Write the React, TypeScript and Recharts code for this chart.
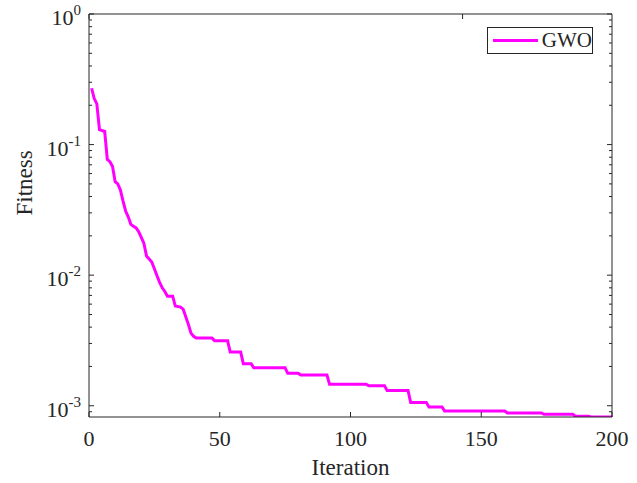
import React from 'react';
import { LineChart, Line, XAxis, YAxis, Legend } from 'recharts';

// convergence curve (breakpoints of the polyline)
const iterations = [
  1, 2, 3, 4, 6, 7, 8, 9, 10, 11, 12, 13, 14, 15, 16, 17, 18, 19, 20, 21, 22, 23, 24, 25, 26, 27, 28, 29, 30, 32,
  33, 35, 36, 37, 38, 39, 40, 41, 47, 48, 53, 54, 58, 59, 62, 63, 75, 76, 80, 81, 91, 92, 106, 107, 113, 114, 122,
  123, 129, 130, 135, 136, 159, 160, 173, 174, 185, 186, 191, 192, 200,
];
const fitness = [
  0.27, 0.225, 0.205, 0.13, 0.126, 0.077, 0.074, 0.068, 0.052, 0.05, 0.045, 0.037, 0.031, 0.028, 0.0245, 0.0237,
  0.023, 0.0215, 0.0195, 0.0175, 0.014, 0.0133, 0.0126, 0.0112, 0.0099, 0.0088, 0.008, 0.0075, 0.0069, 0.0069,
  0.0058, 0.0057, 0.0055, 0.0048, 0.0042, 0.0036, 0.0034, 0.0033, 0.0033, 0.00315, 0.00315, 0.00258, 0.00258,
  0.0021, 0.0021, 0.00195, 0.00195, 0.00177, 0.00177, 0.00172, 0.00172, 0.00146, 0.00146, 0.00142, 0.00142,
  0.00131, 0.00131, 0.00106, 0.00106, 0.00098, 0.00098, 0.00091, 0.00091, 0.00088, 0.00088, 0.00086, 0.00086,
  0.00083, 0.00083, 0.00082, 0.00082,
];

const xTicks = [0, 50, 100, 150, 200];
const decades = [1e-3, 1e-2, 1e-1, 1];
const minorSteps = [2, 3, 4, 5, 6, 7, 8, 9];
const yDomain: [number, number] = [0.00082, 1];

const yTicks: number[] = [];
[1e-4, 1e-3, 1e-2, 1e-1].forEach((d) => {
  yTicks.push(d);
  minorSteps.forEach((m) => yTicks.push(d * m));
});
yTicks.push(1);
const yTicksInRange = yTicks.filter((v) => v >= yDomain[0] - 1e-12 && v <= 1 + 1e-12);

const data = iterations.map((it, i) => ({ it, f: fitness[i] }));

const FONT = '"Liberation Serif", "Times New Roman", serif';
const AXIS = '#262626';
const MAG = '#ff00ff';

const isDecade = (v: number) => decades.some((d) => Math.abs(v - d) / d < 1e-6);

function LeftTick({ x, y, payload }: any) {
  const v = payload.value;
  const major = isDecade(v);
  const exp = Math.round(Math.log10(v));
  return (
    <g>
      <line x1={x} x2={x + (major ? 5 : 3)} y1={y} y2={y} stroke={AXIS} />
      {major && (
        <text x={x - 8} y={y + 11} textAnchor="end" fill={AXIS} style={{ fontFamily: FONT }} fontSize={22}>
          10
          <tspan dy={-10} fontSize={15}>{exp}</tspan>
        </text>
      )}
    </g>
  );
}

function RightTick({ x, y, payload }: any) {
  const major = isDecade(payload.value);
  return <line x1={x} x2={x - (major ? 5 : 3)} y1={y} y2={y} stroke={AXIS} />;
}

function BottomTick({ x, y, payload }: any) {
  return (
    <g>
      <line x1={x} x2={x} y1={y} y2={y - 5} stroke={AXIS} />
      <text x={x} y={y + 29} textAnchor="middle" fill={AXIS} style={{ fontFamily: FONT }} fontSize={22}>
        {payload.value}
      </text>
    </g>
  );
}

function TopTick({ x, y }: any) {
  return <line x1={x} x2={x} y1={y} y2={y + 5} stroke={AXIS} />;
}

function GwoLegend() {
  return (
    <div
      style={{
        width: 104,
        height: 25,
        border: `1px solid ${AXIS}`,
        background: 'white',
        display: 'flex',
        alignItems: 'center',
        fontFamily: FONT,
        fontSize: 21,
        color: AXIS,
      }}
    >
      <div style={{ width: 48, height: 3, background: MAG, marginLeft: 5, marginRight: 4 }} />
      <span>GWO</span>
    </div>
  );
}

export default function App() {
  return (
    <div style={{ width: 637, height: 483, background: 'white' }}>
      <style>{'body{margin:0}'}</style>
      <LineChart width={637} height={483} data={data} margin={{ top: 0, right: 0, bottom: 0, left: 0 }}>
        <XAxis
          dataKey="it"
          type="number"
          domain={[0, 200]}
          ticks={xTicks}
          height={66}
          stroke={AXIS}
          tickLine={false}
          tickSize={0}
          tickMargin={0}
          tick={<BottomTick />}
          interval={0}
          label={{ value: 'Iteration', position: 'insideBottom', offset: 8, fill: AXIS, style: { fontFamily: FONT }, fontSize: 23 }}
        />
        <XAxis
          xAxisId="top"
          orientation="top"
          type="number"
          domain={[0, 200]}
          ticks={xTicks}
          height={14}
          stroke={AXIS}
          tickLine={false}
          tickSize={0}
          tickMargin={0}
          tick={<TopTick />}
          interval={0}
        />
        <YAxis
          scale="log"
          type="number"
          domain={yDomain}
          allowDataOverflow
          ticks={yTicksInRange}
          width={89}
          stroke={AXIS}
          tickLine={false}
          tickSize={0}
          tickMargin={0}
          tick={<LeftTick />}
          interval={0}
          label={{ value: 'Fitness', angle: -90, position: 'insideLeft', offset: 24, fill: AXIS, style: { fontFamily: FONT }, fontSize: 23 }}
        />
        <YAxis
          yAxisId="r"
          orientation="right"
          scale="log"
          type="number"
          domain={yDomain}
          allowDataOverflow
          ticks={yTicksInRange}
          width={25}
          stroke={AXIS}
          tickLine={false}
          tickSize={0}
          tickMargin={0}
          tick={<RightTick />}
          interval={0}
        />
        <Legend
          layout="vertical"
          align="center"
          verticalAlign="middle"
          content={<GwoLegend />}
          wrapperStyle={{ position: 'absolute', left: 487, top: 27, width: 106, height: 27 }}
        />
        <Line
          dataKey="f"
          name="GWO"
          type="linear"
          stroke={MAG}
          strokeWidth={3}
          dot={false}
          isAnimationActive={false}
        />
      </LineChart>
    </div>
  );
}
